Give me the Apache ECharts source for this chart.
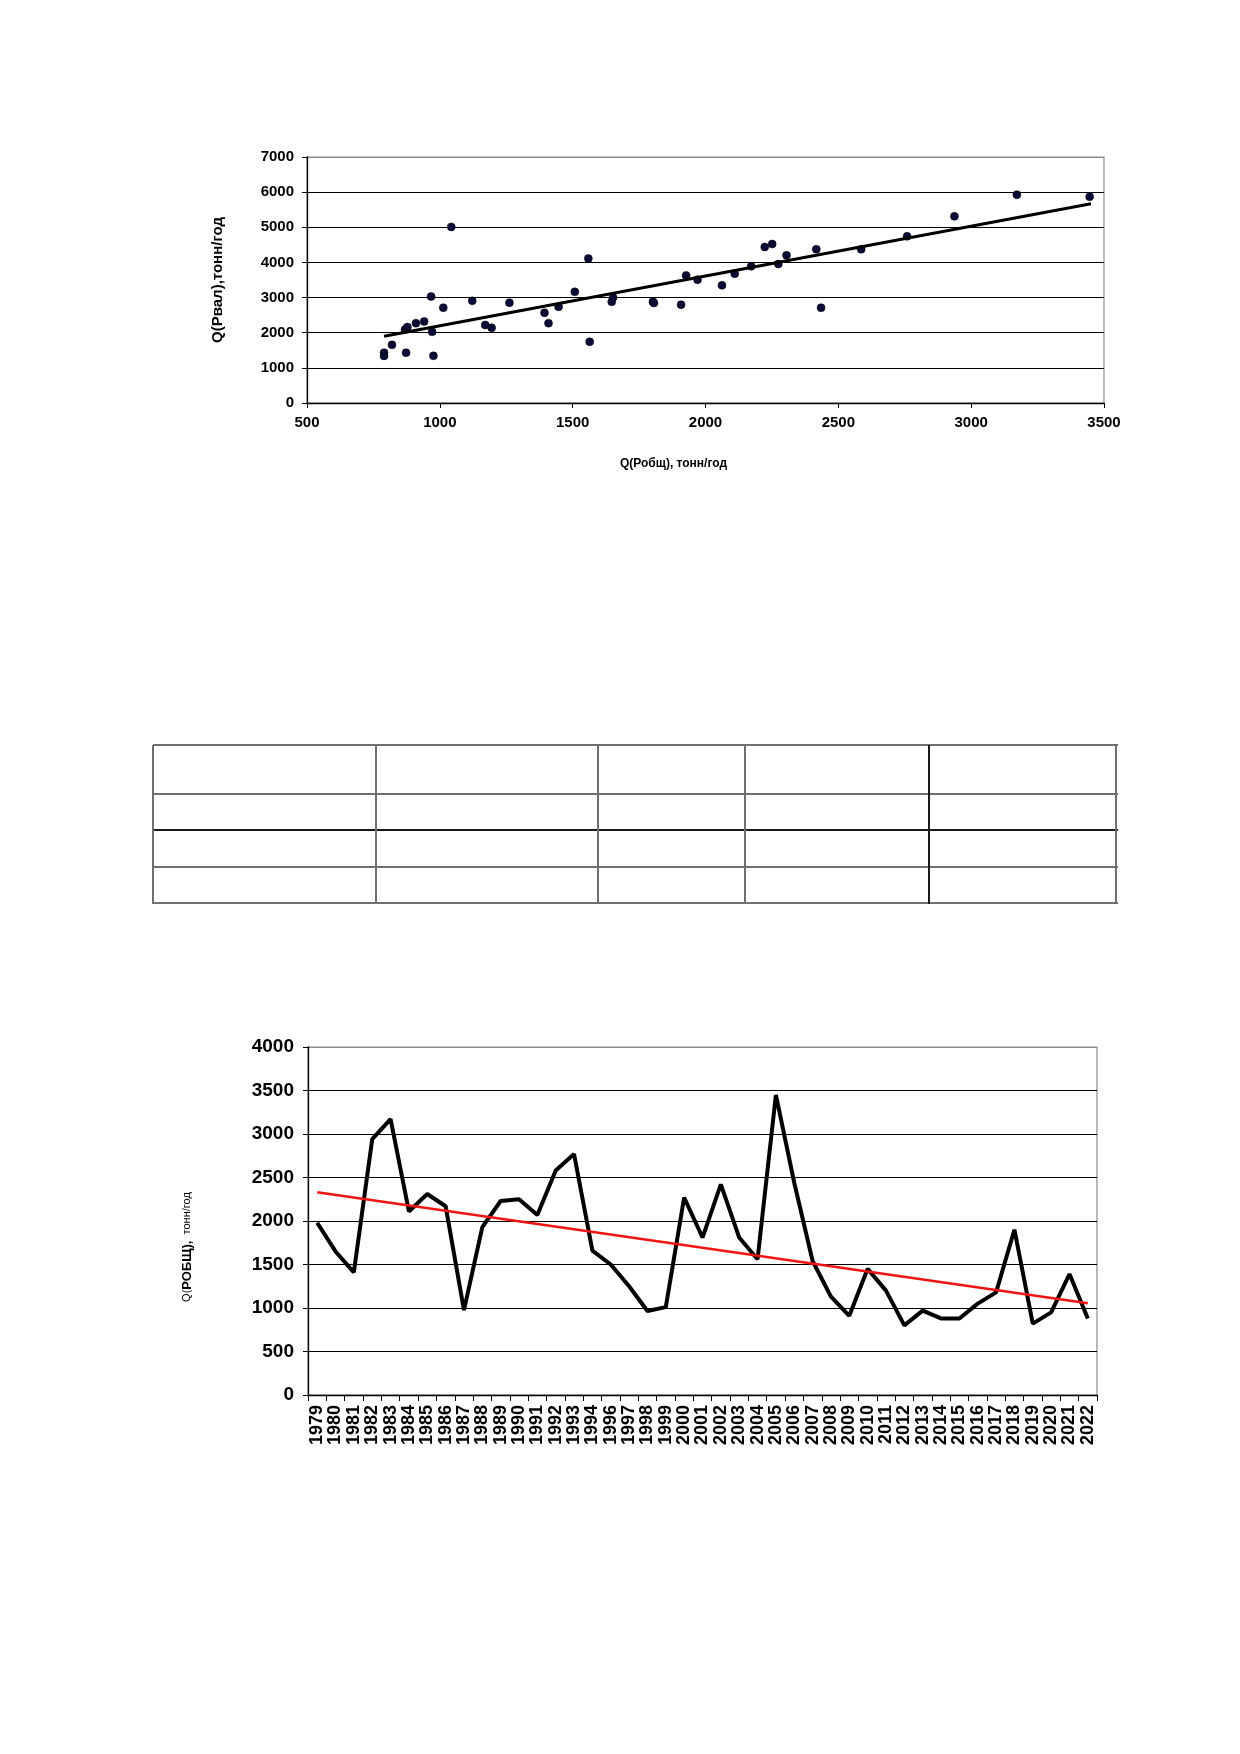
<!DOCTYPE html>
<html>
<head>
<meta charset="utf-8">
<script src="https://cdn.jsdelivr.net/npm/echarts@6/dist/echarts.min.js"></script>
<style>
html,body{margin:0;padding:0;background:#fff;}
#chart{position:absolute;left:0;top:0;width:1240px;height:1754px;}
.tl{position:absolute;background:#6f6f6f;}
</style>
</head>
<body>
<div id="chart"></div>
<div id="table"></div>
<script>
// ---- top chart: Q(Робщ) vs Q(Рвал)
const scatterX = [790,790,820,873,869,878,910,941,967,971,976,1013,1043,1122,1171,1195,1262,1394,1409,1447,1508,1559,1564,1647,1652,1802,1806,1908,1927,1970,2062,2110,2172,2223,2251,2274,2305,2417,2435,2586,2759,2937,3172,3446];
const scatterY = [1430,1340,1655,1432,2090,2160,2272,2320,3030,2025,1342,2712,5010,2908,2220,2140,2855,2565,2272,2736,3163,4110,1740,2880,3005,2880,2846,2798,3630,3509,3348,3680,3889,4439,4524,3955,4202,4373,2713,4373,4743,5312,5928,5871];
const trendTopX = [790, 3451];
const trendTopY = [1897, 5672];
const xTicksTop = [500, 3500, 500]; // min, max, interval
const yTicksTop = [0, 7000, 1000];

// ---- bottom chart: Q(РОБЩ) by year
const years = ['1979','1980','1981','1982','1983','1984','1985','1986','1987','1988','1989','1990','1991','1992','1993','1994','1996','1997','1998','1999','2000','2001','2002','2003','2004','2005','2006','2007','2008','2009','2010','2011','2012','2013','2014','2015','2016','2017','2018','2019','2020','2021','2022'];
const robsh = [1980,1650,1410,2940,3170,2110,2310,2170,975,1930,2230,2250,2070,2580,2770,1660,1500,1250,965,1010,2270,1810,2420,1810,1560,3450,2440,1540,1130,910,1450,1200,800,970,880,880,1050,1180,1900,820,950,1390,880];
const trendBottom = [2330, 1055]; // first year, last year
const yTicksBottom = [0, 4000, 500];

const FONT = 'Arial, "Liberation Sans", sans-serif';
const plain = v => String(v);

const scatterData = scatterX.map((x, i) => [x, scatterY[i]]);
const trendTopData = trendTopX.map((x, i) => [x, trendTopY[i]]);
const trendBottomData = years.map((y, i) => i === 0 ? trendBottom[0] : (i === years.length - 1 ? trendBottom[1] : null));

function gridColors(n){ const a=[]; for(let i=0;i<n;i++) a.push(i===n-1?'#8a8a8a':'#000'); return a; }

const chart = echarts.init(document.getElementById('chart'), null, {renderer:'canvas'});
chart.setOption({
  backgroundColor:'#fff',
  animation:false,
  grid:[
    {left:307, top:157, width:797, height:246, show:true, borderColor:'#8a8a8a', borderWidth:1.2, backgroundColor:'transparent'},
    {left:308, top:1047, width:789, height:348, show:true, borderColor:'#8a8a8a', borderWidth:1.2, backgroundColor:'transparent'}
  ],
  xAxis:[
    {gridIndex:0, type:'value', min:xTicksTop[0], max:xTicksTop[1], interval:xTicksTop[2],
      axisLine:{show:true, lineStyle:{color:'#000', width:1.3}},
      axisTick:{show:true, length:5, lineStyle:{color:'#000'}},
      splitLine:{show:false},
      axisLabel:{color:'#000', fontFamily:FONT, fontWeight:'bold', fontSize:15, margin:12, formatter:plain}},
    {gridIndex:1, type:'category', data:years, boundaryGap:true,
      axisLine:{show:true, lineStyle:{color:'#000', width:1.3}},
      axisTick:{show:true, length:6, interval:0, lineStyle:{color:'#000'}},
      axisLabel:{color:'#000', fontFamily:FONT, fontWeight:'bold', fontSize:18, rotate:90, interval:0, margin:10}}
  ],
  yAxis:[
    {gridIndex:0, type:'value', min:yTicksTop[0], max:yTicksTop[1], interval:yTicksTop[2],
      name:'Q(Рвал),тонн/год', nameLocation:'middle', nameGap:82,
      nameTextStyle:{color:'#000', fontFamily:FONT, fontWeight:'bold', fontSize:15},
      axisLine:{show:true, lineStyle:{color:'#000', width:1.3}},
      axisTick:{show:true, length:5, lineStyle:{color:'#000'}},
      splitLine:{show:true, lineStyle:{color:gridColors(8), width:1.2}},
      axisLabel:{color:'#000', fontFamily:FONT, fontWeight:'bold', fontSize:15, margin:13, formatter:plain}},
    {gridIndex:1, type:'value', min:yTicksBottom[0], max:yTicksBottom[1], interval:yTicksBottom[2],
      axisLine:{show:true, lineStyle:{color:'#000', width:1.3}},
      axisTick:{show:true, length:5, lineStyle:{color:'#000'}},
      splitLine:{show:true, lineStyle:{color:gridColors(9), width:1.2}},
      axisLabel:{color:'#000', fontFamily:FONT, fontWeight:'bold', fontSize:19, margin:14, formatter:plain}}
  ],
  series:[
    {type:'scatter', xAxisIndex:0, yAxisIndex:0, data:scatterData, symbol:'circle', symbolSize:8,
      itemStyle:{color:'#0a0a36', opacity:1, borderColor:'#000', borderWidth:0.5}, z:3},
    {type:'line', xAxisIndex:0, yAxisIndex:0, data:trendTopData, symbol:'none',
      lineStyle:{color:'#000', width:3}, z:4},
    {type:'line', xAxisIndex:1, yAxisIndex:1, data:robsh, symbol:'none',
      lineStyle:{color:'#000', width:4}, z:3},
    {type:'line', xAxisIndex:1, yAxisIndex:1, data:trendBottomData, connectNulls:true, symbol:'none',
      lineStyle:{color:'#f01414', width:2.6}, z:4}
  ],
  graphic:[
    {type:'text', left:620, top:458, style:{text:'Q(Робщ), тонн/год', fill:'#000', font:'bold 12px '+FONT}},
    {type:'text', x:187, y:1247, rotation:Math.PI/2,
      style:{text:'{a|Q(}{b|РОБЩ),}{a|  тонн/год}', align:'center', verticalAlign:'middle',
        rich:{a:{fontFamily:FONT, fontSize:11, fill:'#000', fontWeight:'normal'},
              b:{fontFamily:FONT, fontSize:13, fill:'#000', fontWeight:'bold'}}}}
  ]
});

// ---- empty table
const tRows = [745, 794, 830, 867, 903];
const tCols = [153, 376, 598, 745, 929, 1116];
const tb = document.getElementById('table');
tRows.forEach((y, i) => {
  const d = document.createElement('div'); d.className = 'tl';
  d.style.left = tCols[0] + 'px'; d.style.top = (y - 1) + 'px';
  d.style.width = (tCols[tCols.length-1] - tCols[0] + 2) + 'px'; d.style.height = '2px';
  if (i === 2) d.style.background = '#1a1a1a';
  tb.appendChild(d);
});
tCols.forEach((x, i) => {
  const d = document.createElement('div'); d.className = 'tl';
  d.style.left = (x - 1) + 'px'; d.style.top = tRows[0] + 'px';
  d.style.width = '2px'; d.style.height = (tRows[tRows.length-1] - tRows[0] + 1) + 'px';
  if (i === 4) d.style.background = '#1a1a1a';
  tb.appendChild(d);
});
</script>
</body>
</html>
